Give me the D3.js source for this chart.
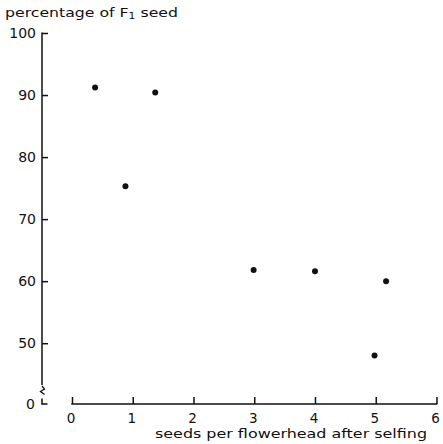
<!DOCTYPE html>
<html lang="en">
  <head>
    <meta charset="UTF-8">
    <title>F1 seed</title>
    <script src="https://cdn.jsdelivr.net/npm/d3@7"></script>
    <style>
      html, body { margin: 0; padding: 0; background: #fff; }
      svg { display: block; }
      text { font-family: 'DejaVu Sans', sans-serif; fill: #111; }
    </style>
  </head>
  <body>
    <script>
      // data
      const seedsPerHead = [0.38, 0.88, 1.37, 2.99, 4.0, 4.98, 5.17];
      const pctF1 = [91.2, 75.3, 90.4, 61.8, 61.6, 48.0, 60.0];
      const xTicks = [0, 1, 2, 3, 4, 5, 6];
      const yTicks = [50, 60, 70, 80, 90, 100];
      const yBreakValue = 40.2; // where the broken axis shows "0"

      const width = 443, height = 444;
      const svg = d3.select('body').append('svg')
        .attr('width', width)
        .attr('height', height);

      const x = d3.scaleLinear().domain([0, 6]).range([72, 436.5]);
      const y = d3.scaleLinear().domain([yBreakValue, 100]).range([404, 33]);
      const yAxisX = 42;

      // y axis (upper part, ticks pointing inward)
      const yAxis = d3.axisRight(y)
        .tickValues(yTicks)
        .tickSize(6)
        .tickFormat('');
      const gy = svg.append('g')
        .attr('transform', `translate(${yAxisX},0)`)
        .call(yAxis);
      gy.select('.domain').remove();
      gy.selectAll('.tick line').attr('stroke', '#111').attr('stroke-width', 1.5);

      svg.append('line')
        .attr('x1', yAxisX).attr('x2', yAxisX)
        .attr('y1', y(100) - 0.5).attr('y2', 385)
        .attr('stroke', '#111').attr('stroke-width', 1.5);

      // break squiggle
      svg.append('path')
        .attr('d', `M${yAxisX},386 l2.5,3 l-4,2.5 l4,3`)
        .attr('fill', 'none')
        .attr('stroke', '#111')
        .attr('stroke-width', 1.3);

      // short segment down to zero
      svg.append('path')
        .attr('d', `M${yAxisX},398.5 L${yAxisX},${y(yBreakValue)} L${yAxisX + 5.5},${y(yBreakValue)}`)
        .attr('fill', 'none')
        .attr('stroke', '#111')
        .attr('stroke-width', 1.5);

      svg.selectAll('.ylab')
        .data(yTicks)
        .enter()
        .append('text')
        .attr('class', 'ylab')
        .attr('x', 36)
        .attr('y', d => y(d) + 5)
        .attr('text-anchor', 'end')
        .attr('font-size', 14)
        .text(d => d);

      svg.append('text')
        .attr('x', 35)
        .attr('y', y(yBreakValue) + 5)
        .attr('text-anchor', 'end')
        .attr('font-size', 14)
        .text('0');

      // x axis, ticks pointing up
      const xAxis = d3.axisTop(x)
        .tickValues(xTicks)
        .tickSize(7)
        .tickFormat('');
      const gx = svg.append('g')
        .attr('transform', `translate(0,${y(yBreakValue)})`)
        .call(xAxis);
      gx.select('.domain').remove();
      gx.selectAll('.tick line').attr('stroke', '#111').attr('stroke-width', 1.5);

      svg.append('line')
        .attr('x1', x(0) - 0.75).attr('x2', x(6) + 0.75)
        .attr('y1', y(yBreakValue)).attr('y2', y(yBreakValue))
        .attr('stroke', '#111').attr('stroke-width', 1.5);

      svg.selectAll('.xlab')
        .data(xTicks)
        .enter()
        .append('text')
        .attr('class', 'xlab')
        .attr('x', d => x(d) - 1)
        .attr('y', 423)
        .attr('text-anchor', 'middle')
        .attr('font-size', 13.5)
        .text(d => d);

      // axis titles
      const yTitle = svg.append('text')
        .attr('x', 5)
        .attr('y', 17)
        .attr('font-size', 13)
        .attr('textLength', 173)
        .attr('lengthAdjust', 'spacingAndGlyphs');
      yTitle.append('tspan').text('percentage of F');
      yTitle.append('tspan').attr('font-size', 9).attr('dy', 2).text('1');
      yTitle.append('tspan').attr('dy', -2).text(' seed');

      svg.append('text')
        .attr('x', 155)
        .attr('y', 438)
        .attr('font-size', 12)
        .attr('textLength', 272)
        .attr('lengthAdjust', 'spacingAndGlyphs')
        .text('seeds per flowerhead after selfing');

      // points
      svg.append('g')
        .selectAll('circle')
        .data(seedsPerHead.map((s, i) => ({ s, p: pctF1[i] })))
        .enter()
        .append('circle')
        .attr('cx', d => x(d.s))
        .attr('cy', d => y(d.p))
        .attr('r', 3)
        .attr('fill', '#111');
    </script>
  </body>
</html>
